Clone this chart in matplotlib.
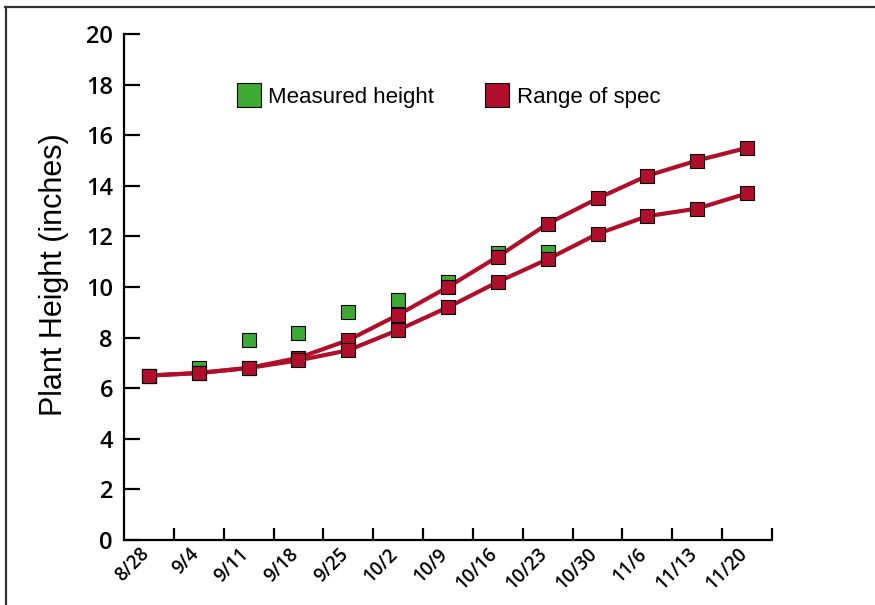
import numpy as np
import matplotlib
matplotlib.use("Agg")
import matplotlib.pyplot as plt
from matplotlib.lines import Line2D
import matplotlib.transforms as mtransforms

# --- data ---
dates = ["8/28", "9/4", "9/11", "9/18", "9/25", "10/2", "10/9",
         "10/16", "10/23", "10/30", "11/6", "11/13", "11/20"]
spec_high = [6.5, 6.6, 6.8, 7.2, 7.9, 8.9, 10.0, 11.2, 12.5, 13.5, 14.4, 15.0, 15.5]
spec_low = [6.5, 6.6, 6.8, 7.1, 7.5, 8.3, 9.2, 10.2, 11.1, 12.1, 12.8, 13.1, 13.7]
measured = [6.5, 6.8, 7.9, 8.2, 9.0, 9.5, 10.2, 11.35, 11.4]

red = "#B00E2A"
green = "#3DAA34"
tick_font = "Open Sans"
text_font = "Liberation Sans"

fig = plt.figure(figsize=(8.75, 6.05), dpi=100)
ax = fig.add_axes([124 / 875, 1 - 540 / 605, 648 / 875, 506 / 605])

x = np.arange(len(dates))
xm = np.arange(len(measured))

ax.plot(xm, measured, ls="none", marker="s", ms=9.5, mfc=green, mec="black",
        mew=0.8, zorder=2)
for ys in (spec_high, spec_low):
    ax.plot(x, ys, color=red, lw=3, marker="s", ms=9.5, mfc=red, mec="black",
            mew=0.8, zorder=3)

ax.set_xlim(-0.5, len(dates) - 0.5)
ax.set_ylim(0, 20)

# spines
for s in ("top", "right"):
    ax.spines[s].set_visible(False)
for s in ("left", "bottom"):
    ax.spines[s].set_linewidth(1.6)

# y ticks
ax.set_yticks(np.arange(0, 21, 2))
ax.tick_params(axis="y", direction="in", length=11.5, width=1.6, pad=8,
               labelsize=17)
for lab in ax.get_yticklabels():
    lab.set_fontfamily(tick_font)
    lab.set_fontweight("semibold")

# x ticks: marks at week boundaries, labels at the points
ax.set_xticks(x)
ax.set_xticklabels(dates)
ax.set_xticks(np.arange(0.5, len(dates)), minor=True)
ax.tick_params(axis="x", which="major", length=0, pad=3, labelsize=13.5)
ax.tick_params(axis="x", which="minor", direction="in", length=8.6, width=1.6)
offset = mtransforms.ScaledTranslation(-10 / 100, 0, fig.dpi_scale_trans)
for lab in ax.get_xticklabels():
    lab.set_fontfamily(tick_font)
    lab.set_fontweight("semibold")
    lab.set_rotation(45)
    lab.set_ha("right")
    lab.set_va("top")
    lab.set_rotation_mode("anchor")
    lab.set_transform(lab.get_transform() + offset)

ax.set_ylabel("Plant Height (inches)", fontsize=22, fontfamily=text_font,
              va="center")
ax.yaxis.set_label_coords(-0.108, 0.524)

# legend
handles = [
    Line2D([], [], ls="none", marker="s", ms=9, mfc=green, mec="black", mew=0.8),
    Line2D([], [], ls="none", marker="s", ms=9, mfc=red, mec="black", mew=0.8),
]
ax.legend(handles, ["Measured height", "Range of spec"], ncol=2, frameon=False,
          loc="center left", bbox_to_anchor=(237.5 / 875, 1 - 97.5 / 605),
          bbox_transform=fig.transFigure, borderpad=0, borderaxespad=0,
          handlelength=1.0, handletextpad=0.38, columnspacing=2.35,
          markerscale=1.9, prop={"family": text_font, "size": 16})

# outer frame (top and left edges only are visible)
fig.add_artist(Line2D([5 / 875, 1], [1 - 7 / 605] * 2, color="#333333", lw=1.6,
                      transform=fig.transFigure))
fig.add_artist(Line2D([6 / 875] * 2, [0, 1 - 7 / 605], color="#333333", lw=1.6,
                      transform=fig.transFigure))

fig.savefig("out.png", dpi=100)
